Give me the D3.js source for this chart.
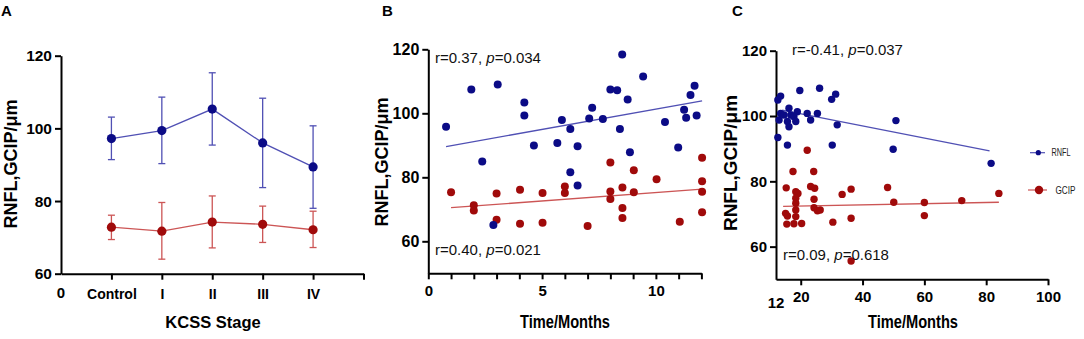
<!DOCTYPE html>
<html>
<head>
<meta charset="utf-8">
<script src="https://cdn.jsdelivr.net/npm/d3@7/dist/d3.min.js"></script>
<style>
  html, body { margin: 0; padding: 0; background: #fff; }
  svg { display: block; }
</style>
</head>
<body>
<svg id="chart" width="1084" height="339"></svg>
<script>
// ---------------- DATA ----------------
// Panel A: KCSS stage means and error bars
const stageCategories = ["Control", "I", "II", "III", "IV"];
const rnflMean = [97.2, 99.4, 105.3, 96.0, 89.4];
const rnflLow  = [91.4, 90.3, 95.4, 83.7, 78.0];
const rnflHigh = [103.1, 108.6, 115.3, 108.3, 100.7];
const gcipMean = [72.8, 71.7, 74.2, 73.6, 72.1];
const gcipLow  = [69.4, 64.0, 67.1, 68.6, 67.2];
const gcipHigh = [76.1, 79.6, 81.4, 78.6, 77.2];
const yTicksA = [60, 80, 100, 120];

// Panel B: time (months) vs thickness, 0-12 months
const bRnfl = [[0.78,95.8],[1.89,107.4],[2.37,84.9],[3.05,109.0],[2.86,65.1],[4.22,103.4],[4.22,99.3],[4.64,89.9],[5.67,90.7],[5.87,97.9],[6.24,95.1],[6.24,81.6],[6.56,89.7],[6.56,77.4],[7.07,98.4],[7.2,101.7],[7.67,98.2],[8.0,107.4],[8.3,107.2],[8.42,95.1],[8.52,118.4],[8.76,104.3],[8.86,87.8],[9.44,111.5],[10.4,97.3],[10.98,89.3],[11.24,101.1],[11.33,98.6],[11.52,105.7],[11.7,108.6],[11.79,99.3]];
const bGcip = [[1.0,75.3],[2.0,71.3],[2.0,69.6],[3.0,74.9],[3.0,66.7],[4.03,76.1],[4.03,65.5],[5.02,75.1],[5.02,65.8],[6.0,77.1],[6.0,75.1],[7.0,64.8],[8.0,84.6],[8.0,75.6],[8.0,73.2],[8.53,76.8],[8.53,70.4],[8.53,67.3],[9.03,82.2],[9.03,75.3],[10.03,79.4],[11.05,66.1],[12.03,86.1],[12.03,78.8],[12.03,75.5],[12.03,69.1]];
const bRnflFit = [[0.78,89.6],[12.03,103.9]];
const bGcipFit = [[1.0,70.5],[12.03,76.3]];
const bXTicks = [0,1,2,3,4,5,6,7,8,9,10,11,12];
const bXLabels = [0,5,10];
const bYTicks = [60, 80, 100, 120];
const bStatRnfl = ["r=0.37, ", "p", "=0.034"];
const bStatGcip = ["r=0.40, ", "p", "=0.021"];

// Panel C: time (months) vs thickness, >12 months
const cRnfl = [[12.6,104.9],[13.5,106.1],[19.7,107.8],[26.1,108.5],[30.0,105.1],[31.3,106.7],[13.5,100.8],[13.0,98.8],[12.6,93.4],[15.7,91.1],[16.2,102.4],[18.9,101.3],[14.6,100.3],[16.8,100.3],[17.8,99.8],[15.7,98.3],[18.4,98.3],[16.2,96.7],[22.1,100.8],[23.2,98.8],[25.4,100.8],[31.8,97.3],[30.2,91.1],[49.9,89.8],[50.8,98.6],[81.6,85.5]];
const cGcip = [[22.1,89.5],[17.5,83.0],[24.2,83.0],[15.3,78.0],[18.4,76.8],[19.1,76.3],[23.2,78.4],[24.5,77.9],[33.4,76.0],[36.3,77.6],[18.4,74.8],[24.3,74.5],[18.4,73.3],[18.4,71.2],[18.4,69.2],[15.1,70.2],[15.7,69.4],[24.3,71.9],[25.4,71.0],[26.3,71.2],[15.5,66.9],[17.8,67.0],[20.3,67.1],[30.4,67.5],[36.3,68.7],[36.3,55.6],[48.1,78.1],[50.1,73.6],[60.0,73.5],[60.0,69.5],[72.1,74.1],[84.1,76.3]];
const cRnflFit = [[14.0,101.8],[81.1,89.3]];
const cGcipFit = [[14.3,72.3],[84.1,73.6]];
const cXTicks = [20, 40, 60, 80, 100];
const cYTicks = [60, 80, 100, 120];
const cStatRnfl = ["r=-0.41, ", "p", "=0.037"];
const cStatGcip = ["r=0.09, ", "p", "=0.618"];
const legendLabels = ["RNFL", "GCIP"];

// ---------------- STYLE ----------------
const FONT = "'Liberation Sans', Arial, Helvetica, sans-serif";
const BLUE_DOT = "#0b0b86";
const BLUE_LINE = "#5050b4";
const RED_DOT = "#a00a0a";
const RED_LINE = "#cc5555";

const svg = d3.select("#chart");

function styleAxis(g, size) {
  g.select(".domain").attr("stroke", "#000").attr("stroke-width", 2);
  g.selectAll(".tick line").attr("stroke", "#000").attr("stroke-width", 2);
  g.selectAll(".tick text")
    .attr("fill", "#000")
    .style("font-family", FONT)
    .style("font-weight", "bold")
    .style("font-size", size + "px");
}

function panelLetter(x, t) {
  svg.append("text").attr("x", x).attr("y", 16).text(t)
    .style("font-family", FONT).style("font-weight", "bold").style("font-size", "15px");
}

function yTitle(x, y, size) {
  svg.append("text")
    .attr("transform", `translate(${x},${y}) rotate(-90)`)
    .attr("text-anchor", "middle")
    .text("RNFL,GCIP/μm")
    .style("font-family", FONT).style("font-weight", "bold").style("font-size", size + "px");
}

function xTitle(x, y, t, size, len) {
  const el = svg.append("text").attr("x", x).attr("y", y).attr("text-anchor", "middle").text(t)
    .style("font-family", FONT).style("font-weight", "bold").style("font-size", size + "px");
  if (len) el.attr("textLength", len).attr("lengthAdjust", "spacingAndGlyphs");
}

function stat(x, y, parts) {
  const t = svg.append("text").attr("x", x).attr("y", y)
    .style("font-family", FONT).style("font-size", "15px").attr("fill", "#111");
  t.append("tspan").text(parts[0]);
  t.append("tspan").text(parts[1]).style("font-style", "italic");
  t.append("tspan").text(parts[2]);
}

// ---------------- PANEL A ----------------
{
  const x = d3.scaleLinear().domain([0, 6]).range([61, 363.5]);
  const y = d3.scaleLinear().domain([60, 120]).range([273.7, 55.7]);

  const gy = svg.append("g").attr("transform", `translate(${x(0)},0)`)
    .call(d3.axisLeft(y).tickValues(yTicksA).tickSize(6).tickSizeOuter(0).tickPadding(3));
  styleAxis(gy, 15.5);

  const gx = svg.append("g").attr("transform", `translate(0,${y(60)})`)
    .call(d3.axisBottom(x).tickValues([1,2,3,4,5,6]).tickSize(6).tickSizeOuter(0).tickPadding(9)
      .tickFormat(d => d <= 5 ? stageCategories[d - 1] : ""));
  styleAxis(gx, 14);

  svg.append("text").attr("x", x(0)).attr("y", 298).attr("text-anchor", "middle").text("0")
    .style("font-family", FONT).style("font-weight", "bold").style("font-size", "15px");

  const series = [
    {mean: gcipMean, low: gcipLow, high: gcipHigh, dot: RED_DOT, line: RED_LINE},
    {mean: rnflMean, low: rnflLow, high: rnflHigh, dot: BLUE_DOT, line: BLUE_LINE}
  ];
  series.forEach(s => {
    const idx = d3.range(s.mean.length);
    const g = svg.append("g");
    idx.forEach(i => {
      const cx = x(i + 1);
      g.append("line").attr("x1", cx).attr("x2", cx).attr("y1", y(s.low[i])).attr("y2", y(s.high[i]))
        .attr("stroke", s.line).attr("stroke-width", 1.3);
      [s.low[i], s.high[i]].forEach(v => {
        g.append("line").attr("x1", cx - 3.5).attr("x2", cx + 3.5).attr("y1", y(v)).attr("y2", y(v))
          .attr("stroke", s.line).attr("stroke-width", 1.3);
      });
    });
    g.append("path")
      .attr("d", d3.line().x(i => x(i + 1)).y(i => y(s.mean[i]))(idx))
      .attr("fill", "none").attr("stroke", s.line).attr("stroke-width", 1.3);
    g.selectAll("circle").data(idx).join("circle")
      .attr("cx", i => x(i + 1)).attr("cy", i => y(s.mean[i])).attr("r", 4.6)
      .attr("fill", s.dot);
  });

  panelLetter(1, "A");
  yTitle(17, 164, 18);
  xTitle(213, 328, "KCSS Stage", 16.5);
}

// ---------------- PANEL B ----------------
{
  const x = d3.scaleLinear().domain([0, 12]).range([428.3, 701.4]);
  const y = d3.scaleLinear().domain([50, 120]).range([273.3, 49.3]);

  const gy = svg.append("g").attr("transform", `translate(${x(0)},0)`)
    .call(d3.axisLeft(y).tickValues(bYTicks).tickSize(6).tickSizeOuter(0).tickPadding(3));
  styleAxis(gy, 16);

  const gx = svg.append("g").attr("transform", `translate(0,${y(50)})`)
    .call(d3.axisBottom(x).tickValues(bXTicks).tickSize(6).tickSizeOuter(0).tickPadding(6)
      .tickFormat(d => bXLabels.includes(d) ? d : ""));
  styleAxis(gx, 15);

  const line = d3.line().x(d => x(d[0])).y(d => y(d[1]));
  svg.append("path").attr("d", line(bRnflFit)).attr("stroke", BLUE_LINE).attr("stroke-width", 1.3).attr("fill", "none");
  svg.append("path").attr("d", line(bGcipFit)).attr("stroke", RED_LINE).attr("stroke-width", 1.3).attr("fill", "none");

  svg.append("g").selectAll("circle").data(bGcip).join("circle")
    .attr("cx", d => x(d[0])).attr("cy", d => y(d[1])).attr("r", 4).attr("fill", RED_DOT);
  svg.append("g").selectAll("circle").data(bRnfl).join("circle")
    .attr("cx", d => x(d[0])).attr("cy", d => y(d[1])).attr("r", 4).attr("fill", BLUE_DOT);

  stat(435, 63, bStatRnfl);
  stat(435, 255, bStatGcip);

  panelLetter(382, "B");
  yTitle(388, 162, 18);
  xTitle(565, 328, "Time/Months", 18, 90);
}

// ---------------- PANEL C ----------------
{
  const x = d3.scaleLinear().domain([12, 100]).range([776, 1048]);
  const y = d3.scaleLinear().domain([50, 120]).range([279.3, 50.7]);

  const gy = svg.append("g").attr("transform", `translate(${x(12)},0)`)
    .call(d3.axisLeft(y).tickValues(cYTicks).tickSize(6).tickSizeOuter(0).tickPadding(3));
  styleAxis(gy, 15);

  const gx = svg.append("g").attr("transform", `translate(0,${y(50)})`)
    .call(d3.axisBottom(x).tickValues(cXTicks).tickSize(6).tickSizeOuter(0).tickPadding(6));
  styleAxis(gx, 15);

  svg.append("text").attr("x", x(12)).attr("y", 308).attr("text-anchor", "middle").text("12")
    .style("font-family", FONT).style("font-weight", "bold").style("font-size", "15px");

  const line = d3.line().x(d => x(d[0])).y(d => y(d[1]));
  svg.append("path").attr("d", line(cRnflFit)).attr("stroke", BLUE_LINE).attr("stroke-width", 1.3).attr("fill", "none");
  svg.append("path").attr("d", line(cGcipFit)).attr("stroke", RED_LINE).attr("stroke-width", 1.3).attr("fill", "none");

  svg.append("g").selectAll("circle").data(cGcip).join("circle")
    .attr("cx", d => x(d[0])).attr("cy", d => y(d[1])).attr("r", 3.7).attr("fill", RED_DOT);
  svg.append("g").selectAll("circle").data(cRnfl).join("circle")
    .attr("cx", d => x(d[0])).attr("cy", d => y(d[1])).attr("r", 3.7).attr("fill", BLUE_DOT);

  stat(792, 55, cStatRnfl);
  stat(783, 260, cStatGcip);

  const leg = [
    {label: legendLabels[0], y: 152.7, x1: 1030, x2: 1045, cx: 1038.3, r: 2.6, dot: BLUE_DOT, line: BLUE_LINE, tx: 1051.5, len: 19},
    {label: legendLabels[1], y: 190, x1: 1028, x2: 1047, cx: 1039, r: 4.2, dot: RED_DOT, line: RED_LINE, tx: 1055.5, len: 20}
  ];
  const lg = svg.append("g");
  leg.forEach(l => {
    lg.append("line").attr("x1", l.x1).attr("x2", l.x2).attr("y1", l.y).attr("y2", l.y)
      .attr("stroke", l.line).attr("stroke-width", 1.2);
    lg.append("circle").attr("cx", l.cx).attr("cy", l.y).attr("r", l.r).attr("fill", l.dot);
    lg.append("text").attr("x", l.tx).attr("y", l.y).attr("dy", "0.35em").text(l.label)
      .attr("textLength", l.len).attr("lengthAdjust", "spacingAndGlyphs")
      .style("font-family", FONT).style("font-size", "10.5px").attr("fill", "#222");
  });

  panelLetter(732, "C");
  yTitle(737, 163, 19);
  xTitle(913, 328, "Time/Months", 18, 90);
}
</script>
</body>
</html>
